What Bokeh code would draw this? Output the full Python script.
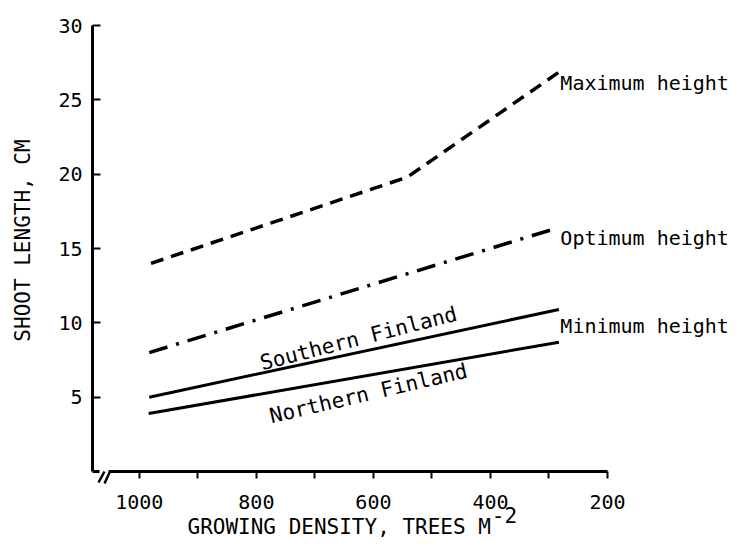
import math
from bokeh.plotting import figure
from bokeh.models import Range1d, FixedTicker, Label, Arrow
from bokeh.embed import file_html
from bokeh.resources import INLINE

# ---- data ----
density_max = [980, 542, 278]
height_max = [14.0, 19.8, 27.0]
density_opt = [983, 284]
height_opt = [8.0, 16.4]
density_south = [983, 283]
height_south = [5.0, 10.9]
density_north = [984, 283]
height_north = [3.9, 8.7]

x_ticks = [200, 300, 400, 500, 600, 700, 800, 900, 1000]
x_tick_labels = {200: "200", 300: "", 400: "400", 500: "", 600: "600",
                 700: "", 800: "800", 900: "", 1000: "1000"}
y_ticks = [5, 10, 15, 20, 25, 30]

curve_names = ["Maximum height", "Optimum height", "Minimum height"]
region_names = ["Southern Finland", "Northern Finland"]
x_title = "GROWING DENSITY, TREES M"
x_title_sup = "-2"
y_title = "SHOOT LENGTH, CM"

# ---- layout constants (pixels inside the figure canvas) ----
W, H = 739, 538
X_AXIS_START, X_AXIS_END = 1080, 200     # axis extent in data units
PX_X0, PX_X1 = 92, 607                   # canvas x of the two axis ends
Y_AXIS_START, Y_AXIS_END = 0, 30
PX_Y0, PX_Y1 = 471, 25                   # canvas y (from top) of 0 and 30

kx = (PX_X1 - PX_X0) / (X_AXIS_START - X_AXIS_END)   # px per density unit
ky = (PX_Y0 - PX_Y1) / (Y_AXIS_END - Y_AXIS_START)   # px per cm


def dx(px):  # canvas x -> density
    return X_AXIS_START + (PX_X0 - px) / kx


def dy(py):  # canvas y -> cm
    return Y_AXIS_START + (PX_Y0 - py) / ky


FONT = "DejaVu Sans Mono"
FS = "20px"
FS2 = "21px"

p = figure(width=W, height=H,
           x_range=Range1d(dx(0), dx(W)), y_range=Range1d(dy(H), dy(0)),
           output_backend="svg", toolbar_location=None,
           min_border_left=0, min_border_right=0, min_border_top=0, min_border_bottom=0)
p.grid.visible = False
p.outline_line_color = None
p.background_fill_color = "white"
p.border_fill_color = "white"

for ax in (p.xaxis[0], p.yaxis[0]):
    ax.axis_line_width = 3
    ax.axis_line_color = "black"
    ax.major_tick_line_width = 2
    ax.major_tick_line_color = "black"
    ax.minor_tick_line_color = None
    ax.major_label_text_font = FONT
    ax.major_label_text_font_size = FS
    ax.major_label_text_color = "black"

xa = p.xaxis[0]
xa.fixed_location = 0
xa.ticker = FixedTicker(ticks=x_ticks)
xa.major_label_overrides = x_tick_labels
xa.major_tick_in = 0
xa.major_tick_out = 7
xa.major_label_standoff = 16
xa.bounds = (X_AXIS_END, dx(PX_X0 + 16))

ya = p.yaxis[0]
ya.fixed_location = X_AXIS_START
ya.ticker = FixedTicker(ticks=y_ticks)
ya.major_tick_in = 8
ya.major_tick_out = 0
ya.major_label_standoff = 10
ya.bounds = (Y_AXIS_START, Y_AXIS_END)

# ---- curves ----
p.line(density_max, height_max, line_color="black", line_width=3.5, line_dash="13 8")
p.line(density_opt, height_opt, line_color="black", line_width=3.5, line_dash="19 9 3 9")
p.line(density_south, height_south, line_color="black", line_width=3)
p.line(density_north, height_north, line_color="black", line_width=3)

# ---- curve end labels ----
label_x = max(density_max[-1], density_opt[-1], density_south[-1])
ends = [height_max[-1], height_opt[-1], (height_south[-1] + height_north[-1]) / 2]
offs = [-13, -10, 0]
for name, yv, off in zip(curve_names, ends, offs):
    p.add_layout(Label(x=label_x, y=yv, text=name, x_offset=2, y_offset=off,
                       text_font=FONT, text_font_size=FS, text_color="black",
                       text_baseline="middle", text_align="left"))

# rotated region labels
for name, (px, py), ang in [(region_names[0], (358, 338), 0.25),
                            (region_names[1], (368, 393), 0.23)]:
    p.add_layout(Label(x=dx(px), y=dy(py), text=name, angle=ang,
                       text_font=FONT, text_font_size=FS2, text_color="black",
                       text_baseline="middle", text_align="center"))

# axis titles
p.add_layout(Label(x=dx(187), y=dy(526), text=x_title,
                   text_font=FONT, text_font_size=FS2, text_color="black",
                   text_baseline="middle", text_align="left"))
p.add_layout(Label(x=dx(187 + 24 * 12.64 + 1), y=dy(514), text=x_title_sup,
                   text_font=FONT, text_font_size=FS2, text_color="black",
                   text_baseline="middle", text_align="left"))
p.add_layout(Label(x=dx(22), y=dy(240), text=y_title, angle=math.pi / 2,
                   text_font=FONT, text_font_size=FS2, text_color="black",
                   text_baseline="middle", text_align="center"))

# ---- axis break marks ----
p.add_layout(Arrow(end=None, x_start=X_AXIS_START, y_start=0, x_end=dx(PX_X0 + 7), y_end=0,
                   line_width=3, line_color="black"))
p.add_layout(Arrow(end=None, x_start=dx(PX_X0 + 6), y_start=dy(PX_Y0 + 11),
                   x_end=dx(PX_X0 + 12), y_end=dy(PX_Y0),
                   line_width=2.5, line_color="black"))
p.add_layout(Arrow(end=None, x_start=dx(PX_X0 + 12), y_start=dy(PX_Y0 + 12),
                   x_end=dx(PX_X0 + 17), y_end=dy(PX_Y0 + 1),
                   line_width=2.5, line_color="black"))

open("out.html", "w").write(file_html(p, INLINE))
